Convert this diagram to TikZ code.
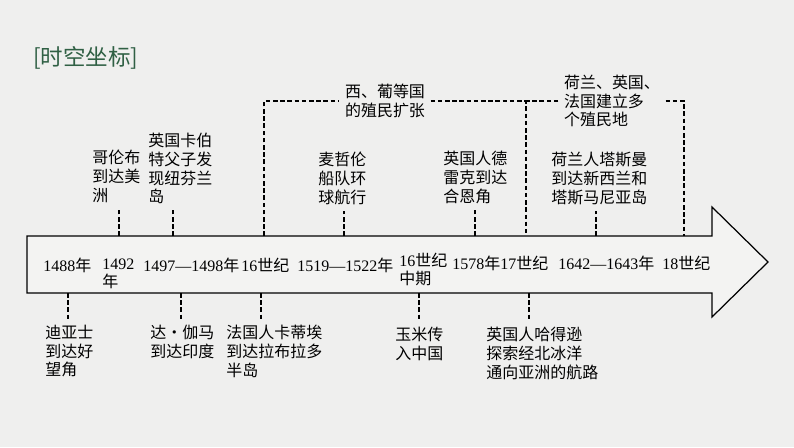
\documentclass[tikz,border=0pt]{standalone}
\usepackage{fontspec}
\setmainfont{Noto Sans CJK SC}
\newfontfamily\digits{Liberation Serif}
\definecolor{titlegreen}{RGB}{48,96,68}
\definecolor{paper}{RGB}{239,239,238}
\definecolor{arrowbody}{RGB}{243,243,242}
\newcommand{\yr}[1]{{\digits #1}}

\begin{document}
\begin{tikzpicture}[
          x=0.02cm, y=-0.02cm,
          event/.style = {inner sep=0pt, align=left, font=\fontsize{9.1}{10.6}\selectfont},
          date/.style = {inner sep=0pt, align=left, font=\fontsize{9.1}{10}\selectfont},
          span/.style = {event, inner xsep=3pt},
          tick/.style = {line width=0.6pt, dash pattern=on 2.6pt off 1.5pt}
        ]

        % Background
        \fill[paper] (0,0) rectangle (794,447);
        \useasboundingbox (0,0) rectangle (794,447);

        % Title
        \node[anchor=west, inner sep=0pt, text=titlegreen, font=\fontsize{12.8}{14}\selectfont] (title) at (33,58) {[时空坐标]};

        % Arrow
        \draw[line width=0.7pt, fill=arrowbody] (27,236) -- (712,236) -- (712,207) -- (768,262)
          -- (712,317) -- (712,293) -- (27,293) -- cycle;

        % Points on the arrow edges
        \coordinate (u1492) at (119,236);
        \coordinate (u1497) at (173,236);
        \coordinate (u16c) at (264,236);
        \coordinate (u1519) at (344,236);
        \coordinate (u1578) at (475,236);
        \coordinate (u17c) at (526,236);
        \coordinate (u1642) at (596,236);
        \coordinate (u18c) at (684,236);
        \coordinate (d1488) at (68,293);
        \coordinate (d1498) at (181,293);
        \coordinate (d16c) at (261,293);
        \coordinate (d16m) at (419,293);
        \coordinate (d17c) at (529,293);

        % Dates
        \node[date, anchor=west] (y1488) at (43,265) {\yr{1488}年};
        \node[date, anchor=north west] (y1492) at (102,259) {\yr{1492}\\年};
        \node[date, anchor=west] (y1497) at (143,265) {\yr{1497—1498}年};
        \node[date, anchor=west] (c16) at (241,265) {\yr{16}世纪};
        \node[date, anchor=west] (y1519) at (297,265) {\yr{1519—1522}年};
        \node[date, anchor=north west] (c16m) at (399,253) {\yr{16}世纪\\中期};
        \node[date, anchor=west] (y1578) at (452,263) {\yr{1578}年};
        \node[date, anchor=west] (c17) at (500,263) {\yr{17}世纪};
        \node[date, anchor=west] (y1642) at (558,263) {\yr{1642—1643}年};
        \node[date, anchor=west] (c18) at (662,263) {\yr{18}世纪};

        % Events above
        \node[event, anchor=north west] (colum) at (92,150) {哥伦布\\到达美\\洲};
        \node[event, anchor=north west] (cabot) at (148,133) {英国卡伯\\特父子发\\现纽芬兰\\岛};
        \node[event, anchor=north west] (magellan) at (318,152) {麦哲伦\\船队环\\球航行};
        \node[event, anchor=north west] (drake) at (443,151) {英国人德\\雷克到达\\合恩角};
        \node[event, anchor=north west] (tasman) at (551,152) {荷兰人塔斯曼\\到达新西兰和\\塔斯马尼亚岛};
        \node[span] (iberia) at (385,101) {西、葡等国\\的殖民扩张};
        \node[span] (colonies) at (612,101) {荷兰、英国、\\法国建立多\\个殖民地};

        % Events below
        \node[event, anchor=north west] (dias) at (45,325) {迪亚士\\到达好\\望角};
        \node[event, anchor=north west] (gama) at (150,325) {达·伽马\\到达印度};
        \node[event, anchor=north west] (cartier) at (226,325) {法国人卡蒂埃\\到达拉布拉多\\半岛};
        \node[event, anchor=north west] (maize) at (395,327) {玉米传\\入中国};
        \node[event, anchor=north west] (hudson) at (486,327) {英国人哈得逊\\探索经北冰洋\\通向亚洲的航路};

        % Ticks up
        \draw[tick, shorten >=3.4pt] (u1492) -- (u1492 |- colum.south);
        \draw[tick, shorten >=3.4pt] (u1497) -- (u1497 |- cabot.south);
        \draw[tick, shorten >=3.4pt] (u1519) -- (u1519 |- magellan.south);
        \draw[tick, shorten >=3.4pt] (u1578) -- (u1578 |- drake.south);
        \draw[tick, shorten >=3.4pt] (u1642) -- (u1642 |- tasman.south);

        % Brackets over the periods
        \draw[tick] (u16c) |- (iberia.west);
        \draw[tick] (iberia.east) -| (u17c);
        \draw[tick] (colonies.west) -- (colonies.west -| u17c);
        \draw[tick] (colonies.east) -| (u18c);

        % Ticks down
        \draw[tick, shorten >=3.4pt] (d1488) -- (d1488 |- dias.north);
        \draw[tick, shorten >=3.4pt] (d1498) -- (d1498 |- gama.north);
        \draw[tick, shorten >=3.4pt] (d16c) -- (d16c |- cartier.north);
        \draw[tick, shorten >=3.4pt] (d16m) -- (d16m |- maize.north);
        \draw[tick, shorten >=3.4pt] (d17c) -- (d17c |- hudson.north);

      \end{tikzpicture}
\end{document}
